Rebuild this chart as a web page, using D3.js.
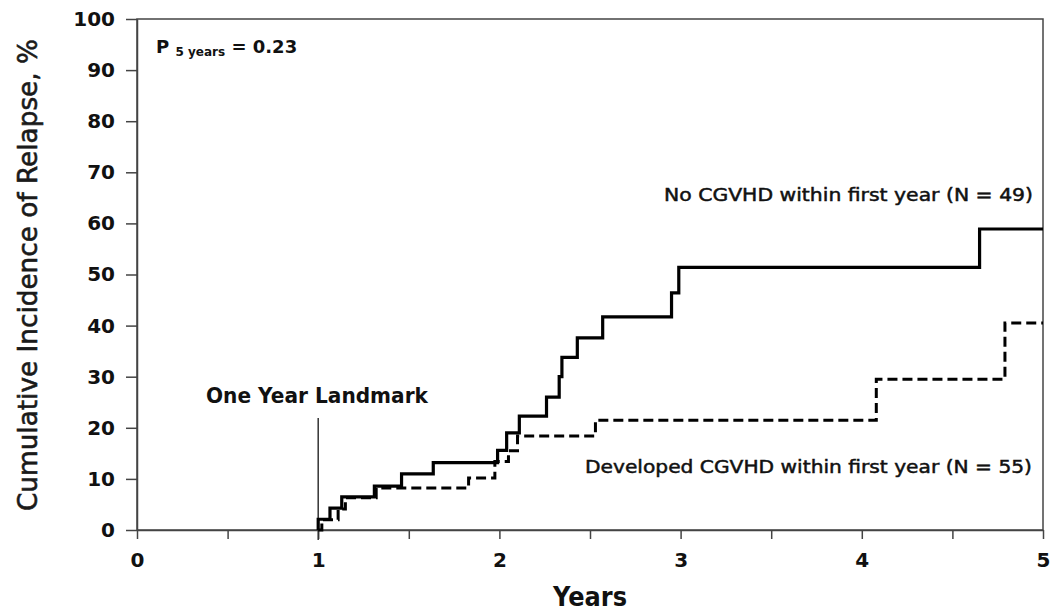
<!DOCTYPE html>
<html>
<head>
<meta charset="utf-8">
<script src="https://cdn.jsdelivr.net/npm/d3@7"></script>
<style>
  body { margin: 0; background: #fff; }
  text { font-family: "DejaVu Sans", Verdana, sans-serif; }
</style>
</head>
<body>
<div id="chart"></div>
<script>
// step times (years) and cumulative incidence (%)
var noCgvhdTimes  = [1.00, 1.065, 1.13, 1.31, 1.46, 1.635, 1.99, 2.04, 2.11, 2.26, 2.33, 2.345, 2.43, 2.57, 2.95, 2.99, 4.65];
var noCgvhdValues = [2.1, 4.3, 6.5, 8.6, 11.0, 13.2, 15.6, 19.0, 22.3, 26.0, 30.0, 33.8, 37.6, 41.7, 46.4, 51.4, 58.9];

var cgvhdTimes  = [1.02, 1.11, 1.15, 1.32, 1.83, 1.975, 2.05, 2.10, 2.53, 4.08, 4.79];
var cgvhdValues = [2.0, 4.1, 6.3, 8.2, 10.2, 13.4, 15.5, 18.4, 21.5, 29.5, 40.5];

var yTicks = [0, 10, 20, 30, 40, 50, 60, 70, 80, 90, 100];
var xTicks = [0, 0.5, 1, 1.5, 2, 2.5, 3, 3.5, 4, 4.5, 5];
var landmarkYear = 1;
var endYear = 5;

var width = 1057, height = 614;

var svg = d3.select("#chart").append("svg")
  .attr("width", width)
  .attr("height", height);

var x = d3.scaleLinear().domain([0, 5]).range([137, 1043]);
var y = d3.scaleLinear().domain([0, 100]).range([530, 19]);

// frame (top and right edges)
svg.append("rect")
  .attr("x", x(0)).attr("y", y(100))
  .attr("width", x(5) - x(0)).attr("height", y(0) - y(100))
  .attr("fill", "none")
  .attr("stroke", "#444")
  .attr("stroke-width", 1.5);

// y axis
var yAxis = svg.append("g")
  .attr("transform", "translate(" + x(0) + ",0)")
  .call(d3.axisLeft(y).tickValues(yTicks).tickSize(11).tickSizeOuter(0).tickPadding(11));
yAxis.select(".domain").attr("stroke", "#444").attr("stroke-width", 1.5);
yAxis.selectAll(".tick line").attr("stroke", "#444").attr("stroke-width", 1.5);
yAxis.selectAll(".tick text")
  .attr("font-family", "DejaVu Sans")
  .attr("font-size", 20)
  .attr("font-weight", "bold")
  .attr("fill", "#111");

// x axis, ticks every half year, labels on whole years
var xAxis = svg.append("g")
  .attr("transform", "translate(0," + y(0) + ")")
  .call(d3.axisBottom(x).tickValues(xTicks).tickSize(9).tickSizeOuter(0).tickPadding(14)
    .tickFormat(d => Number.isInteger(d) ? d : ""));
xAxis.select(".domain").attr("stroke", "#444").attr("stroke-width", 1.5);
xAxis.selectAll(".tick line").attr("stroke", "#444").attr("stroke-width", 1.5);
xAxis.selectAll(".tick text")
  .attr("font-family", "DejaVu Sans")
  .attr("font-size", 20)
  .attr("font-weight", "bold")
  .attr("fill", "#111");

// axis titles
svg.append("text")
  .attr("transform", "translate(37,275) rotate(-90)")
  .attr("text-anchor", "middle")
  .attr("font-size", 26)
  .attr("fill", "#1a1a1a")
  .attr("stroke", "#1a1a1a").attr("stroke-width", 0.6)
  .attr("textLength", 472)
  .attr("lengthAdjust", "spacingAndGlyphs")
  .text("Cumulative Incidence of Relapse, %");

svg.append("text")
  .attr("x", 590).attr("y", 606)
  .attr("text-anchor", "middle")
  .attr("font-size", 26)
  .attr("font-weight", "bold")
  .attr("fill", "#111")
  .attr("textLength", 74)
  .attr("lengthAdjust", "spacingAndGlyphs")
  .text("Years");

// landmark marker
svg.append("line")
  .attr("x1", x(landmarkYear)).attr("x2", x(landmarkYear))
  .attr("y1", 418).attr("y2", 540)
  .attr("stroke", "#333")
  .attr("stroke-width", 1.5);

svg.append("text")
  .attr("x", 206).attr("y", 403)
  .attr("font-size", 21)
  .attr("font-weight", "bold")
  .attr("fill", "#111")
  .attr("textLength", 222)
  .attr("lengthAdjust", "spacingAndGlyphs")
  .text("One Year Landmark");

// step curves
function stepPoints(times, values) {
  var pts = [[landmarkYear, 0]];
  times.forEach((t, i) => pts.push([t, values[i]]));
  pts.push([endYear, values[values.length - 1]]);
  return pts;
}

var line = d3.line()
  .x(d => x(d[0]))
  .y(d => y(d[1]))
  .curve(d3.curveStepAfter);

svg.append("path")
  .datum(stepPoints(cgvhdTimes, cgvhdValues))
  .attr("d", line)
  .attr("fill", "none")
  .attr("stroke", "#000")
  .attr("stroke-width", 3)
  .attr("stroke-dasharray", "10,5");

svg.append("path")
  .datum(stepPoints(noCgvhdTimes, noCgvhdValues))
  .attr("d", line)
  .attr("fill", "none")
  .attr("stroke", "#000")
  .attr("stroke-width", 3.2);

// curve labels
svg.append("text")
  .attr("x", 664).attr("y", 201)
  .attr("font-size", 18)
  .attr("fill", "#111")
  .attr("stroke", "#111").attr("stroke-width", 0.5)
  .attr("textLength", 369)
  .attr("lengthAdjust", "spacingAndGlyphs")
  .text("No CGVHD within first year (N = 49)");

svg.append("text")
  .attr("x", 585).attr("y", 473)
  .attr("font-size", 18)
  .attr("fill", "#111")
  .attr("stroke", "#111").attr("stroke-width", 0.5)
  .attr("textLength", 447)
  .attr("lengthAdjust", "spacingAndGlyphs")
  .text("Developed CGVHD within first year (N = 55)");

// p-value
var pText = svg.append("text")
  .attr("x", 156).attr("y", 53)
  .attr("font-weight", "bold")
  .attr("fill", "#111");
pText.append("tspan").attr("font-size", 18).text("P ");
pText.append("tspan").attr("font-size", 12).attr("dy", 3).text("5 years");
pText.append("tspan").attr("font-size", 18).attr("dy", -3).text(" = 0.23");
</script>
</body>
</html>
